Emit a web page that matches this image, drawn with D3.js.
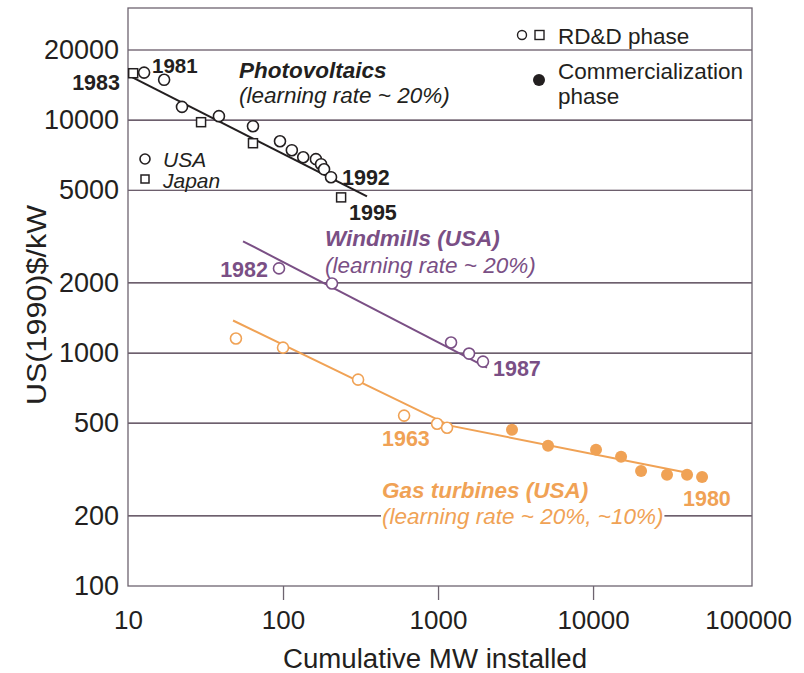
<!DOCTYPE html>
<html>
<head>
<meta charset="utf-8">
<script src="https://cdn.jsdelivr.net/npm/d3@7"></script>
<style>
  body { margin: 0; background: #fff; }
  text { font-family: "Liberation Sans", Arial, sans-serif; }
</style>
</head>
<body>
<script>
// axis ticks
var xTicks = [10, 100, 1000, 10000, 100000];
var yTicks = [100, 200, 500, 1000, 2000, 5000, 10000, 20000];

// photovoltaics, USA (circles) and Japan (squares)
var pvUSA = [[12.7, 16000], [17.1, 14900], [22.3, 11400], [38.6, 10400], [64, 9420],
  [95.6, 8120], [114, 7430], [135, 6930], [163, 6800], [176, 6470], [184, 6150], [204, 5690]];
var pvJapan = [[10.8, 15900], [29.6, 9800], [64, 7960], [237, 4660]];
var pvFit = [[10.3, 15450], [348, 4710]];

// windmills USA
var wind = [[94.2, 2310], [207, 1990], [1213, 1110], [1585, 995], [1950, 919]];
var windFit = [[55.2, 3020], [2070, 866]];

// gas turbines USA: RD&D phase (open) and commercialization (filled)
var gasRDD = [[49.7, 1155], [100, 1055], [305, 769], [604, 539], [986, 497], [1143, 478]];
var gasComm = [[3000, 469], [5125, 400], [10450, 385], [15160, 359], [20400, 312],
  [30000, 300], [40400, 300], [50500, 294]];
var gasFit = [[47.6, 1380], [1195, 488], [39000, 308]];

var dark = "#231f20", purple = "#7a4f85", orange = "#f0a255";

var margin = {top: 8, right: 52, bottom: 87, left: 128};
var W = 804, H = 673;
var width = W - margin.left - margin.right,
    height = H - margin.top - margin.bottom;

var svg = d3.select("body").append("svg")
    .attr("width", W).attr("height", H);
var g = svg.append("g")
    .attr("transform", "translate(" + margin.left + "," + margin.top + ")");

var x = d3.scaleLog().domain([10, 106000]).range([0, width]);
var y = d3.scaleLog().domain([100, 30300]).range([height, 0]);

// gridlines
g.selectAll(".grid").data(yTicks.slice(1)).enter().append("line")
    .attr("x1", 0).attr("x2", width)
    .attr("y1", function(d) { return y(d); })
    .attr("y2", function(d) { return y(d); })
    .attr("stroke", "#3d2a3d").attr("stroke-width", 1.2);

// frame
g.append("rect").attr("width", width).attr("height", height)
    .attr("fill", "none").attr("stroke", "#6e6470").attr("stroke-width", 1.3);

// y axis labels
var yAxis = d3.axisLeft(y).tickValues(yTicks).tickFormat(d3.format("d"))
    .tickSize(0).tickPadding(9);
g.append("g").call(yAxis)
    .call(function(s) { s.select(".domain").remove(); })
    .selectAll("text").attr("font-size", 27).attr("fill", dark)
    .attr("font-family", "Liberation Sans, Arial, sans-serif");

// x axis
var xAxis = d3.axisBottom(x).tickValues(xTicks).tickFormat(d3.format("d"))
    .tickSize(14).tickPadding(11);
var xg = g.append("g").attr("transform", "translate(0," + height + ")").call(xAxis);
xg.select(".domain").remove();
xg.selectAll("line").attr("stroke", "#6e6470").attr("stroke-width", 1.3)
    .attr("opacity", function(d) { return (d == 10 || d == 100000) ? 0 : 1; });
xg.selectAll("text").attr("font-size", 26).attr("fill", dark)
    .attr("font-family", "Liberation Sans, Arial, sans-serif");

// axis titles
svg.append("text").attr("x", 435).attr("y", 668)
    .attr("text-anchor", "middle").attr("font-size", 27).attr("fill", dark)
    .attr("textLength", 304).attr("lengthAdjust", "spacingAndGlyphs")
    .text("Cumulative MW installed");
svg.append("text").attr("transform", "translate(46,305) rotate(-90)")
    .attr("text-anchor", "middle").attr("font-size", 28).attr("fill", dark)
    .attr("textLength", 200).attr("lengthAdjust", "spacingAndGlyphs")
    .text("US(1990)$/kW");

var line = d3.line()
    .x(function(d) { return x(d[0]); })
    .y(function(d) { return y(d[1]); });

function fitLine(data, color) {
  g.append("path").datum(data).attr("d", line)
      .attr("fill", "none").attr("stroke", color).attr("stroke-width", 2);
}
function circles(data, color, filled) {
  g.selectAll(null).data(data).enter().append("circle")
      .attr("cx", function(d) { return x(d[0]); })
      .attr("cy", function(d) { return y(d[1]); })
      .attr("r", filled ? 6 : 5.5)
      .attr("fill", filled ? color : "#fff")
      .attr("stroke", color).attr("stroke-width", filled ? 0 : 1.6);
}
function squares(data, color) {
  g.selectAll(null).data(data).enter().append("rect")
      .attr("x", function(d) { return x(d[0]) - 4.5; })
      .attr("y", function(d) { return y(d[1]) - 4.5; })
      .attr("width", 9).attr("height", 9)
      .attr("fill", "#fff").attr("stroke", color).attr("stroke-width", 1.5);
}

fitLine(pvFit, dark);
fitLine(windFit, purple);
fitLine(gasFit, orange);
circles(pvUSA, dark, false);
squares(pvJapan, dark);
circles(wind, purple, false);
circles(gasRDD, orange, false);
circles(gasComm, orange, true);

// annotations (page coordinates)
function label(txt, px, py, color, opts) {
  opts = opts || {};
  var t = svg.append("text").attr("x", px).attr("y", py)
      .attr("fill", color).attr("font-size", opts.size || 22.5)
      .attr("font-weight", opts.bold ? "bold" : "normal")
      .attr("font-style", opts.italic ? "italic" : "normal")
      .attr("text-anchor", opts.anchor || "start")
      .text(txt);
  if (opts.bg) {
    var b = t.node().getBBox();
    svg.insert("rect", function() { return t.node(); })
        .attr("x", b.x - 1).attr("y", b.y + 2).attr("width", b.width + 2).attr("height", b.height - 2)
        .attr("fill", "#fff");
  }
  return t;
}

var yr = 21.5;
label("1981", 152, 73, dark, {bold: true, size: 20.5});
label("1983", 120, 90, dark, {bold: true, anchor: "end", size: yr});
label("Photovoltaics", 239, 78, dark, {bold: true, italic: true});
label("(learning rate ~ 20%)", 239, 103, dark, {italic: true});
label("1992", 342, 185, dark, {bold: true, size: yr});
label("1995", 349, 220, dark, {bold: true, size: yr});

// USA / Japan key
svg.append("circle").attr("cx", 145).attr("cy", 159).attr("r", 5)
    .attr("fill", "#fff").attr("stroke", dark).attr("stroke-width", 1.6);
svg.append("rect").attr("x", 141).attr("y", 175).attr("width", 8).attr("height", 8)
    .attr("fill", "#fff").attr("stroke", dark).attr("stroke-width", 1.5);
label("USA", 163, 167, dark, {italic: true, size: 21});
label("Japan", 163, 188, dark, {italic: true, size: 21});

label("Windmills (USA)", 325, 246, purple, {bold: true, italic: true});
label("(learning rate ~ 20%)", 325, 273, purple, {italic: true});
label("1982", 268, 277, purple, {bold: true, anchor: "end", size: yr});
label("1987", 493, 376, purple, {bold: true, bg: true, size: yr});

label("1963", 382, 446, orange, {bold: true, bg: true, size: yr});
label("Gas turbines (USA)", 382, 498, orange, {bold: true, italic: true});
label("(learning rate ~ 20%, ~10%)", 382, 524, orange, {italic: true, bg: true});
label("1980", 683, 506, orange, {bold: true, bg: true, size: yr});

// phase legend
svg.append("circle").attr("cx", 522).attr("cy", 35).attr("r", 4.5)
    .attr("fill", "#fff").attr("stroke", dark).attr("stroke-width", 1.4);
svg.append("rect").attr("x", 535).attr("y", 30.5).attr("width", 9).attr("height", 9)
    .attr("fill", "#fff").attr("stroke", dark).attr("stroke-width", 1.4);
label("RD&D phase", 558, 44, dark, {size: 22.5});
svg.append("circle").attr("cx", 539).attr("cy", 80).attr("r", 6).attr("fill", dark);
label("Commercialization", 558, 79, dark, {size: 22.5});
label("phase", 558, 104, dark, {size: 22.5});
</script>
</body>
</html>
